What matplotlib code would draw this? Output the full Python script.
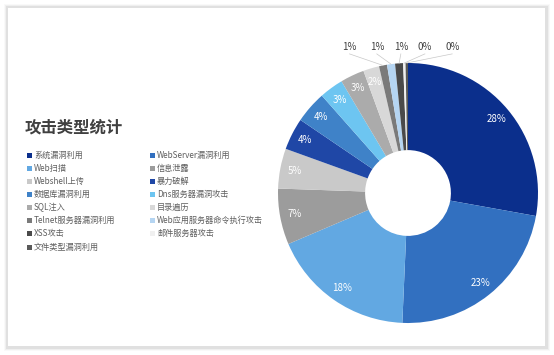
import numpy as np
import matplotlib
matplotlib.use("Agg")
import matplotlib.pyplot as plt
from matplotlib.patches import Rectangle

plt.rcParams['font.family'] = ['Noto Sans CJK SC', 'DejaVu Sans']

title = "攻击类型统计"
categories = ["系统漏洞利用", "WebServer漏洞利用", "Web扫描", "信息泄露", "Webshell上传",
              "暴力破解", "数据库漏洞利用", "Dns服务器漏洞攻击", "SQL注入", "目录遍历",
              "Telnet服务器漏洞利用", "Web应用服务器命令执行攻击", "XSS攻击", "邮件服务器攻击",
              "文件类型漏洞利用"]
values = [28, 23, 18, 7, 5, 4, 4, 3, 3, 2, 1, 1, 1, 0.3, 0.3]
colors = ["#0b2f8c", "#3270c0", "#62a8e2", "#9c9c9c", "#c9c9c9",
          "#1f47a6", "#3f82c8", "#6dc5f1", "#ababab", "#d8d8d8",
          "#7a7a7a", "#b5d5f2", "#4a4a4a", "#f0f0f0", "#595959"]

W, H = 554, 355
fig = plt.figure(figsize=(W / 100, H / 100), dpi=100)
fig.patch.set_facecolor("white")

# card with shadow
bg = fig.add_axes([0, 0, 1, 1])
bg.set_xlim(0, W); bg.set_ylim(H, 0); bg.axis("off")
for i, a in enumerate([0.025, 0.04, 0.06]):
    d = 3 - i
    bg.add_patch(Rectangle((7 - d, 7 - d), 539 + 2 * d + 1, 340 + 2 * d + 1,
                           facecolor="#000000", alpha=a, edgecolor="none"))
bg.add_patch(Rectangle((8, 8), 537, 338, facecolor="white", edgecolor="none"))

# title
bg.text(25, 128, title, fontsize=11.8, fontweight="bold", color="#404040",
        va="center", ha="left")

# legend (row-major, two columns)
for i, (cat, col) in enumerate(zip(categories, colors)):
    r, c = divmod(i, 2)
    x0 = 27 if c == 0 else 150
    y0 = 155 + r * 13.15
    bg.add_patch(Rectangle((x0, y0 - 2.5), 5, 5, facecolor=col, edgecolor="none"))
    bg.text(x0 + 7, y0, cat, fontsize=5.9, color="#5f5f5f", va="center", ha="left")

# pie
cx, cy, R = 408, 193, 130
ax = fig.add_axes([(cx - R) / W, (H - cy - R) / H, 2 * R / W, 2 * R / H])
wedges, _ = ax.pie(values, colors=colors, startangle=90, counterclock=False,
                   radius=1, wedgeprops=dict(width=0.67, edgecolor="none"))
ax.set_xlim(-1, 1); ax.set_ylim(-1, 1); ax.axis("off")

total = sum(values)
outer_x = [-0.45, -0.24, -0.055, 0.13, 0.34]
k = 0
for w, v in zip(wedges, values):
    pct = v / total * 100
    ang = np.deg2rad((w.theta1 + w.theta2) / 2)
    lab = f"{pct:.0f}%"
    if pct >= 1.5:
        ax.text(0.89 * np.cos(ang), 0.89 * np.sin(ang), lab, color="white",
                fontsize=7, ha="center", va="center")
    else:
        tx, ty = outer_x[k], 1.12
        k += 1
        ex, ey = np.cos(ang), np.sin(ang)
        ax.plot([ex, tx], [ey, ty - 0.05], color="#c8c8c8", lw=0.5, clip_on=False)
        ax.text(tx, ty, lab, color="#404040", fontsize=7, ha="center", va="center")

fig.savefig("out.png", dpi=100)
